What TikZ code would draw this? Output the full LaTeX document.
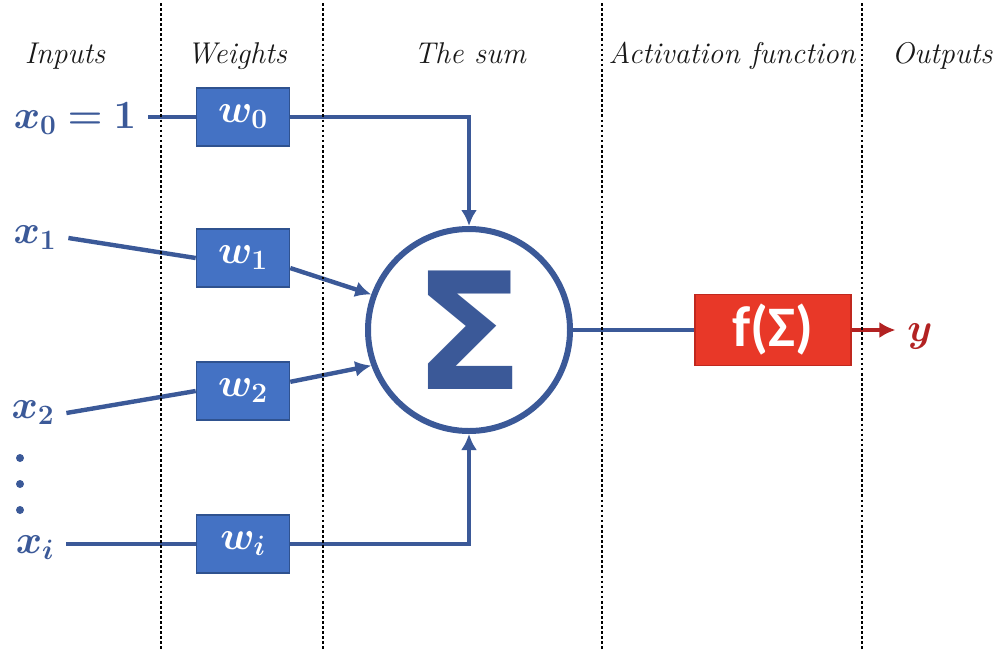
\RequirePackage{fix-cm}
\documentclass[tikz,border=0pt]{standalone}
\usepackage{amsmath,bm}
\usepackage{fontspec}
\newfontfamily\sumfont{DejaVu Sans}
\newfontfamily\actfont{Carlito}
\usepackage{xcolor}
\usepackage{tikz}
\usetikzlibrary{arrows.meta,positioning,calc}
\definecolor{wireblue}{RGB}{59,89,152}
\definecolor{boxblue}{RGB}{68,114,196}
\definecolor{boxedge}{RGB}{47,82,143}
\definecolor{actred}{RGB}{232,56,40}
\definecolor{actedge}{RGB}{192,40,30}
\definecolor{outred}{RGB}{178,34,34}
\definecolor{headgray}{RGB}{25,25,25}

\begin{document}
\begin{tikzpicture}[x=0.75pt,y=-0.75pt,
  head/.style={anchor=base,text=headgray,font=\fontsize{22.5}{26}\selectfont\itshape},
  inp/.style={text=wireblue,inner sep=0pt,outer sep=9pt,font=\fontsize{30}{34}\selectfont},
  wbox/.style={draw=boxedge,fill=boxblue,line width=1.2pt,minimum width=69.75pt,minimum height=43.5pt,inner sep=0pt,text=white,font=\fontsize{30}{34}\selectfont},
  actbox/.style={draw=actedge,fill=actred,line width=1.2pt,minimum width=117pt,minimum height=53.25pt,inner sep=0pt,text=white,font=\actfont\bfseries\fontsize{43}{46}\selectfont},
  wire/.style={draw=wireblue,line width=3.3pt},
  arr/.style={wire,-{Latex[length=12pt,width=12pt]}},
  outarr/.style={draw=outred,line width=3.3pt,-{Latex[length=12pt,width=12pt]}},
  colsep/.style={line width=2.2pt,dash pattern=on 2pt off 1.8pt},
]
  \useasboundingbox (0,0) rectangle (998,650);

  \node[head] (hin) at (65,63) {Inputs};
  \node[head] (hw) at (237,63) {Weights};
  \node[head] (hsum) at (470,63) {The sum};
  \node[head] (hact) at (732,63) {Activation function};
  \node[head] (hout) at (942,63) {Outputs};

  \node[inp] (x0) at (75,119) {$\bm{x_0 = 1}$};
  \node[inp] (x1) at (35,238) {$\bm{x_1}$};
  \node[inp] (x2) at (33,413) {$\bm{x_2}$};
  \node[inp] (xi) at (35,548) {$\bm{x_i}$};
  \foreach \dy in {458,484,510}
    \fill[wireblue] (20,\dy) circle (3pt);

  \node[wbox] (w0) at (243,117) {$\bm{w_0}$};
  \node[wbox] (w1) at (243,258) {$\bm{w_1}$};
  \node[wbox] (w2) at (243,391) {$\bm{w_2}$};
  \node[wbox] (wi) at (243,544) {$\bm{w_i}$};

  \node[circle,draw=wireblue,line width=4.5pt,minimum size=151.5pt,inner sep=0pt,text=wireblue] (sum) at (469,330)
    {\sumfont\bfseries\fontsize{122}{122}\selectfont Σ};
  \node[actbox] (act) at (773,330) {f(Σ)};
  \node[text=outred,inner sep=0pt,outer sep=9pt,font=\fontsize{30}{34}\selectfont] (yout) at (920,336) {$\bm{y}$};

  \draw[wire] (x0.east |- w0.west) -- (w0.west);
  \draw[wire] (x1.east) -- (w1.west);
  \draw[wire] (x2.east) -- (w2.west);
  \draw[wire] (xi.east |- wi.west) -- (wi.west);

  \draw[arr] (w0.east) -| (sum.north);
  \draw[arr] (w1.-12) -- (sum.160);
  \draw[arr] (w2.11) -- (sum.200);
  \draw[arr] (wi.east) -| (sum.south);

  \draw[wire] (sum.east) -- (act.west);
  \draw[outarr] (act.east) -- (act.east -| yout.west);

  \foreach \sx in {161,323,602,862}
    \draw[colsep] (\sx,3) -- (\sx,650);
\end{tikzpicture}
\end{document}
